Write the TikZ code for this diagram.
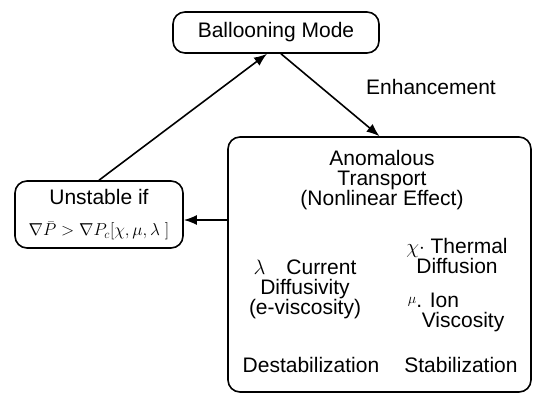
\documentclass[tikz,border=0pt]{standalone}
\usepackage{fontspec}
\setmainfont{Liberation Sans}
\usetikzlibrary{arrows.meta}

\begin{document}
\begin{tikzpicture}[x=1pt,y=-1pt,line width=1.6pt,>={Latex[length=13pt,width=10pt]}]
\tikzstyle{every node}=[font=\fontsize{21}{20}\selectfont,align=center,inner sep=0pt]
\tikzstyle{box}=[draw,rounded corners=12pt]
\useasboundingbox (0,0) rectangle (533,394);
\node [box,minimum width=206pt,minimum height=41pt] (bm) at (276,32.5) {Ballooning Mode};
\node [box,minimum width=168pt,minimum height=67pt] (unst) at (99,214.5) {Unstable if\\[11pt]{\fontsize{17}{20}\selectfont$\nabla\bar{P}>\nabla P_c[\chi,\mu,\lambda\;]$}};
\node [box,minimum width=303pt,minimum height=255pt] (anom) at (379.5,264.5) {};
\node (hd) at (382,180) {Anomalous\\Transport\\(Nonlinear Effect)};
\node (cd) at (305,289) {$\lambda$\quad Current\\Diffusivity\\(e-viscosity)};
\node (td) at (457,256) {$\chi\cdot$ Thermal\\Diffusion};
\node [anchor=west,align=left] (iv) at (407,312) {\raisebox{4pt}{\fontsize{15}{15}\selectfont$\mu$}. Ion\\\hspace*{14pt}Viscosity};
\node (ds) at (311,365) {Destabilization};
\node (st) at (461,365) {Stabilization};
\draw [->] (unst.north) -- ([xshift=-9pt]bm.south);
\draw [->] ([xshift=5pt]bm.south) -- node [pos=0.4,right=45pt] {Enhancement} (anom.north);
\draw [->] ([yshift=-5.5pt]unst.east -| anom.west) -- ([yshift=-5.5pt]unst.east);
\end{tikzpicture}
\end{document}
